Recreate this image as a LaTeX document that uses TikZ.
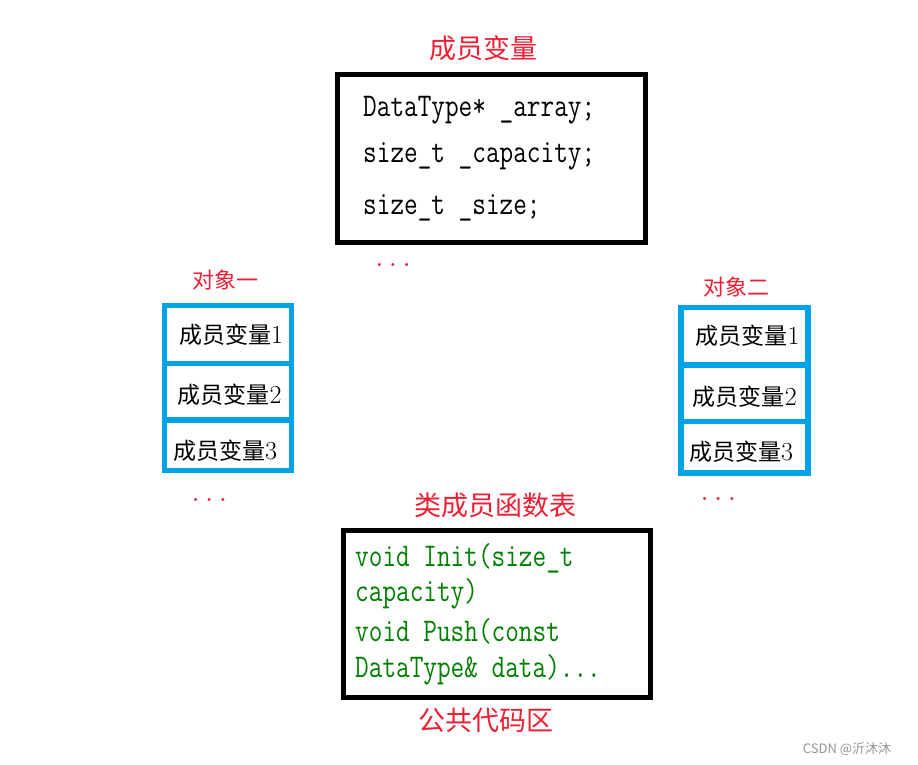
\documentclass[tikz,border=0pt]{standalone}
\usepackage{fontspec}
\usepackage{graphicx}
\newfontfamily\cjk{Noto Sans CJK SC}
\definecolor{tred}{RGB}{240,30,50}
\definecolor{tblue}{RGB}{0,162,232}
\definecolor{tgreen}{RGB}{0,128,0}
\definecolor{wmgray}{RGB}{150,150,150}
\newcommand\codetxt[1]{\scalebox{1}[1.25]{#1}}
\newcommand\dg[1]{{\fontsize{26pt}{28pt}\selectfont #1}}
\tikzset{
 blackbox/.style={draw=black,line width=5pt,inner sep=0pt},
 cell/.style={draw=tblue,line width=5.5pt,inner sep=0pt,minimum width=127pt},
 redtitle/.style={text=tred,inner sep=0pt,font=\cjk\fontsize{27pt}{30pt}\selectfont},
 objtitle/.style={text=tred,inner sep=0pt,font=\cjk\fontsize{22pt}{26pt}\selectfont},
 celltext/.style={inner sep=0pt,font=\fontsize{23pt}{26pt}\selectfont},
 code/.style={anchor=base west,inner sep=0pt,font=\ttfamily\fontsize{26.5pt}{30pt}\selectfont},
 greencode/.style={code,text=tgreen},
 reddots/.style={anchor=base,inner sep=0pt,text=tred,font=\ttfamily\fontsize{26.5pt}{30pt}\selectfont},
}
\begin{document}
\begin{tikzpicture}[x=1pt,y=-1pt]
\fill[white] (0,0) rectangle (918,764);
\useasboundingbox (0,0) rectangle (918,764);
% top: member variables
\node[redtitle] (ttitle) at (483,48) {成员变量};
\node[blackbox,minimum width=308pt,minimum height=168pt] (topbox) at (491.6,158.6) {};
\node[code] (c1) at (363,116) {\codetxt{DataType* \_array;}};
\node[code] (c2) at (363,162) {\codetxt{size\_t \_capacity;}};
\node[code] (c3) at (363,214.5) {\codetxt{size\_t \_size;}};
\node[reddots] (tdots) at (393,266) {...};
% left object
\node[objtitle] (ltitle) at (225,280) {对象一};
\node[cell,minimum height=57.8pt] (l1) at (228.1,334.4) {};
\node[cell,minimum height=56.5pt] (l2) at (228.1,391.55) {};
\node[cell,minimum height=50.9pt] (l3) at (228.1,445.25) {};
\node[celltext] (l1t) at (231,335) {{\cjk 成员变量}\dg{1}};
\node[celltext] (l2t) at (229.7,395) {{\cjk 成员变量}\dg{2}};
\node[celltext] (l3t) at (225,450.7) {{\cjk 成员变量}\dg{3}};
\node[reddots] (ldots) at (209.3,501.5) {...};
% right object
\node[objtitle] (rtitle) at (736.7,286.7) {对象二};
\node[cell,minimum height=57.5pt] (r1) at (744.5,336.25) {};
\node[cell,minimum height=56.5pt] (r2) at (744.5,393.25) {};
\node[cell,minimum height=51.5pt] (r3) at (744.5,447.25) {};
\node[celltext] (r1t) at (747.5,336) {{\cjk 成员变量}\dg{1}};
\node[celltext] (r2t) at (744.8,396.7) {{\cjk 成员变量}\dg{2}};
\node[celltext] (r3t) at (741,451.7) {{\cjk 成员变量}\dg{3}};
\node[reddots] (rdots) at (718.3,500) {...};
% bottom: member function table
\node[redtitle] (btitle) at (495.8,505) {类成员函数表};
\node[blackbox,minimum width=307pt,minimum height=167pt] (botbox) at (497.4,614.4) {};
\node[greencode] (f1) at (355,566) {\codetxt{void Init(size\_t}};
\node[greencode] (f2) at (355,601.7) {\codetxt{capacity)}};
\node[greencode] (f3) at (355,641.7) {\codetxt{void Push(const}};
\node[greencode] (f4) at (355,677.7) {\codetxt{DataType\& data)...}};
\node[redtitle] (area) at (486,720) {公共代码区};
% watermark
\node[text=wmgray,inner sep=0pt,font=\cjk\fontsize{13pt}{15pt}\selectfont] (wm) at (847,749) {CSDN @沂沐沐};
\end{tikzpicture}
\end{document}
